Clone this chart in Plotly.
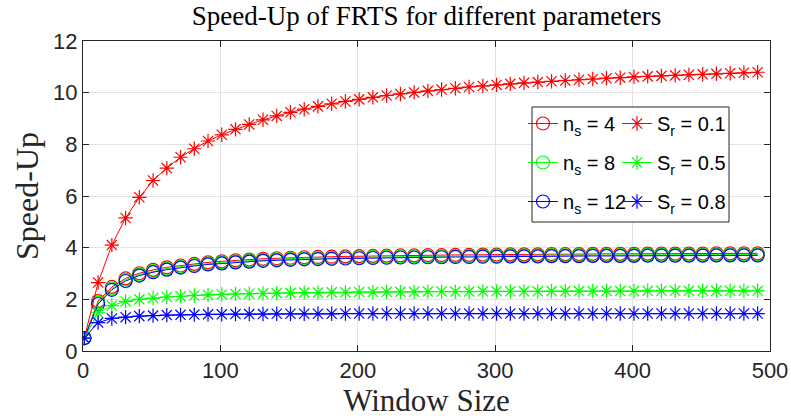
import plotly.graph_objects as go

window = list(range(1, 500, 10))  # 1, 11, ..., 491

ns4 = [0.5, 1.93, 2.48, 2.81, 3.01, 3.14, 3.24, 3.31, 3.37, 3.43, 3.47, 3.51, 3.54, 3.57, 3.59,
       3.61, 3.63, 3.64, 3.65, 3.66, 3.67, 3.68, 3.69, 3.70, 3.70, 3.71, 3.71, 3.72, 3.72, 3.73,
       3.73, 3.74, 3.74, 3.74, 3.75, 3.75, 3.75, 3.76, 3.76, 3.76, 3.76, 3.77, 3.77, 3.77, 3.77,
       3.77, 3.78, 3.78, 3.78, 3.78]
ns8 = [0.5, 1.87, 2.42, 2.76, 2.96, 3.09, 3.19, 3.27, 3.33, 3.39, 3.43, 3.47, 3.50, 3.53, 3.55,
       3.57, 3.59, 3.60, 3.61, 3.62, 3.63, 3.64, 3.65, 3.66, 3.66, 3.67, 3.67, 3.68, 3.68, 3.69,
       3.69, 3.70, 3.70, 3.70, 3.71, 3.71, 3.71, 3.72, 3.72, 3.72, 3.72, 3.73, 3.73, 3.73, 3.73,
       3.73, 3.74, 3.74, 3.74, 3.74]
ns12 = [0.5, 1.82, 2.37, 2.71, 2.92, 3.05, 3.15, 3.23, 3.29, 3.35, 3.39, 3.43, 3.46, 3.49, 3.51,
        3.53, 3.55, 3.56, 3.57, 3.58, 3.59, 3.60, 3.61, 3.62, 3.62, 3.63, 3.63, 3.64, 3.64, 3.65,
        3.65, 3.66, 3.66, 3.66, 3.67, 3.67, 3.67, 3.68, 3.68, 3.68, 3.68, 3.69, 3.69, 3.69, 3.69,
        3.69, 3.70, 3.70, 3.70, 3.70]
sr01 = [0.5, 2.65, 4.1, 5.15, 5.95, 6.6, 7.08, 7.5, 7.83, 8.13, 8.37, 8.58, 8.77, 8.95, 9.1,
        9.24, 9.36, 9.47, 9.57, 9.66, 9.74, 9.82, 9.89, 9.95, 10.01, 10.07, 10.12, 10.17, 10.22, 10.26,
        10.30, 10.34, 10.38, 10.41, 10.44, 10.47, 10.50, 10.53, 10.56, 10.58, 10.61, 10.63, 10.65, 10.67, 10.69,
        10.71, 10.73, 10.75, 10.77, 10.79]
sr05 = [0.5, 1.48, 1.76, 1.92, 2.0, 2.05, 2.09, 2.12, 2.15, 2.17, 2.19, 2.21, 2.22, 2.23, 2.24,
        2.25, 2.26, 2.26, 2.27, 2.27, 2.28, 2.28, 2.29, 2.29, 2.29, 2.30, 2.30, 2.30, 2.30, 2.31,
        2.31, 2.31, 2.31, 2.31, 2.32, 2.32, 2.32, 2.32, 2.32, 2.32, 2.32, 2.33, 2.33, 2.33, 2.33,
        2.33, 2.33, 2.33, 2.33, 2.33]
sr08 = [0.5, 1.1, 1.26, 1.31, 1.35, 1.37, 1.39, 1.40, 1.41, 1.42, 1.42, 1.43, 1.43, 1.43, 1.44,
        1.44, 1.44, 1.44, 1.44, 1.45, 1.45, 1.45, 1.45, 1.45, 1.45, 1.45, 1.45, 1.45, 1.45, 1.45,
        1.45, 1.45, 1.45, 1.45, 1.45, 1.45, 1.45, 1.45, 1.45, 1.45, 1.45, 1.45, 1.45, 1.45, 1.45,
        1.45, 1.45, 1.45, 1.45, 1.45]

circle_series = [("n<sub>s</sub> = 4", ns4, "#ff0000"),
                 ("n<sub>s</sub> = 8", ns8, "#00ff00"),
                 ("n<sub>s</sub> = 12", ns12, "#0000ff")]
star_series = [("S<sub>r</sub> = 0.1", sr01, "#ff0000"),
               ("S<sub>r</sub> = 0.5", sr05, "#00ff00"),
               ("S<sub>r</sub> = 0.8", sr08, "#0000ff")]

fig = go.Figure()
for i, (name, vals, col) in enumerate(circle_series):
    fig.add_trace(go.Scatter(
        x=window, y=vals, name=name, mode="lines+markers",
        line=dict(color=col, width=1),
        marker=dict(symbol="circle-open", size=13, color=col, line=dict(width=1.2, color=col)),
        legend="legend", legendgroup="c%d" % i))
for i, (name, vals, col) in enumerate(star_series):
    fig.add_trace(go.Scatter(
        x=window, y=vals, name=name, mode="lines+markers",
        line=dict(color=col, width=1),
        marker=dict(symbol="asterisk-open", size=12, color=col, line=dict(width=1.2, color=col)),
        legend="legend2", legendgroup="s%d" % i))

axis_common = dict(
    showline=True, linecolor="#262626", linewidth=1, mirror="allticks",
    ticks="inside", ticklen=6, tickcolor="#262626", automargin=False,
    showgrid=True, gridcolor="#e3e3e3", gridwidth=1, zeroline=False,
    tickfont=dict(family="Liberation Sans, Arial, sans-serif", size=22, color="#262626"),
)

PL, PR, PT, PB = 83, 770, 41, 351
PW, PH = PR - PL, PB - PT

fig.update_layout(
    width=791, height=419,
    margin=dict(l=PL, r=791 - PR, t=PT, b=419 - PB, autoexpand=False),
    paper_bgcolor="white", plot_bgcolor="white",
    title=dict(text="Speed-Up of FRTS for different parameters",
               font=dict(family="Liberation Serif, serif", size=27, color="black"),
               x=(PL + PR) / 2 / 791, xanchor="center", xref="container",
               y=1 - 16 / 419, yanchor="middle", yref="container"),
    xaxis=dict(range=[0, 500], tickvals=[0, 100, 200, 300, 400, 500],
               title=dict(text="Window Size", standoff=4,
                          font=dict(family="Liberation Serif, serif", size=31, color="#262626")),
               **axis_common),
    yaxis=dict(range=[0, 12], tickvals=[0, 2, 4, 6, 8, 10, 12],
               title=dict(text="Speed-Up", standoff=4,
                          font=dict(family="Liberation Serif, serif", size=32, color="#262626")),
               **axis_common),
    legend=dict(x=(523 - PL) / PW, y=(PB - 104) / PH, xanchor="left", yanchor="top",
                bgcolor="rgba(0,0,0,0)", borderwidth=0, tracegroupgap=10,
                traceorder="grouped",
                font=dict(family="Liberation Sans, Arial, sans-serif", size=20, color="black")),
    legend2=dict(x=(617 - PL) / PW, y=(PB - 104) / PH, xanchor="left", yanchor="top",
                 bgcolor="rgba(0,0,0,0)", borderwidth=0, tracegroupgap=10,
                 traceorder="grouped",
                 font=dict(family="Liberation Sans, Arial, sans-serif", size=20, color="black")),
    shapes=[dict(type="rect", xref="paper", yref="paper",
                 x0=(532 - PL) / PW, x1=(729 - PL) / PW,
                 y0=(PB - 222) / PH, y1=(PB - 107) / PH,
                 fillcolor="white", line=dict(color="#262626", width=1), layer="above")],
)

fig.write_html("out.html")
